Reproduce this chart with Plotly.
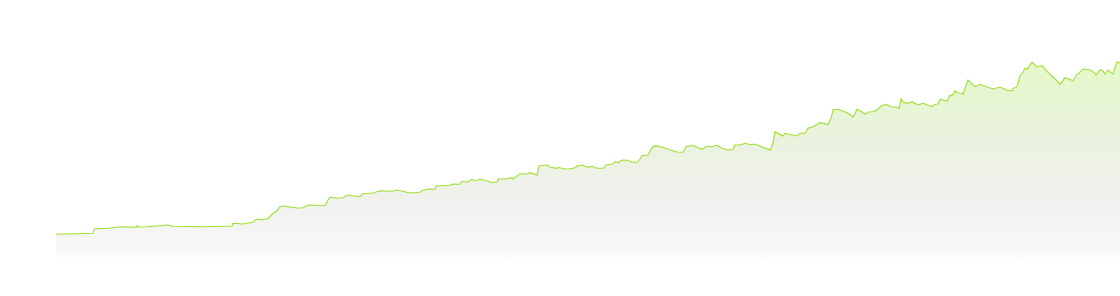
import plotly.graph_objects as go

# day index (x) and value (y)
days = [0, 24, 37, 38, 52, 65, 74, 80, 81, 83, 91, 112, 116, 149, 176, 177, 187, 197, 200, 206,
        212, 217, 220, 224, 227, 234, 241, 247, 252, 259, 269, 272, 274, 281, 287, 291, 296, 304,
        306, 317, 324, 337, 341, 347, 354, 364, 366, 372, 379, 380, 394, 397, 404, 406, 412, 416,
        419, 424, 431, 436, 441, 442, 449, 456, 457, 464, 471, 474, 481, 483, 491, 494, 501, 502,
        509, 514, 519, 521, 526, 532, 536, 541, 547, 550, 557, 559, 562, 566, 572, 576, 581, 584,
        586, 592, 596, 599, 607, 614, 621, 627, 630, 636, 641, 646, 651, 656, 661, 666, 672, 677,
        679, 684, 689, 694, 699, 704, 711, 714, 717, 719, 722, 727, 729, 734, 741, 744, 749, 752,
        757, 764, 769, 772, 775, 777, 782, 786, 791, 796, 797, 801, 806, 810, 812, 817, 822, 825,
        830, 835, 841, 843, 845, 847, 851, 856, 862, 867, 872, 876, 879, 882, 884, 891, 894, 896,
        899, 901, 906, 907, 912, 916, 919, 924, 931, 937, 944, 951, 956, 957, 961, 964, 967, 969,
        971, 976, 981, 986, 992, 996, 999, 1001, 1004, 1009, 1014, 1017, 1021, 1023, 1027, 1034,
        1038, 1040, 1044, 1047, 1049, 1052, 1056, 1057, 1061, 1064]

values = [30.7, 31, 31.7, 36, 36.7, 38.3, 37.7, 37.7, 39.3, 38, 38.3, 40, 38.7, 38.3, 39, 41.7,
          41, 42.7, 45.7, 45.3, 46.3, 51.7, 53.3, 58.3, 59, 57.7, 57, 57.3, 60, 59.7, 59.3, 65,
          67.7, 67, 67.3, 70, 69.3, 68.3, 71, 72, 74.3, 73.7, 75, 73.3, 72, 72.7, 74.3, 76, 75.7,
          79, 79.7, 81, 80.7, 83.7, 83, 85.7, 84, 85.7, 84.3, 82.3, 83, 86, 86, 87.3, 86, 91.3,
          91, 92.3, 90, 99.3, 100, 97.7, 96.7, 97.7, 96, 96.3, 97.3, 99, 100, 97.7, 98.7, 96.7,
          96.7, 100, 101, 103.3, 102.3, 105, 104.7, 102.7, 102.7, 106, 109.3, 110, 117.3, 119.3,
          117.7, 115, 113, 112.7, 118.3, 119.7, 117.7, 115.7, 119, 118.3, 119.7, 116.7, 115, 116,
          120, 120, 121.7, 120.3, 121, 119, 116.3, 115, 121.7, 133.3, 131.7, 129, 131.7, 130.7,
          129, 131.7, 131.7, 136.7, 138.3, 142.3, 141.7, 140.7, 146.7, 155, 155.7, 154.3, 152.3,
          149, 147.7, 155.7, 153.3, 150.7, 153, 153.3, 155.7, 159, 160.7, 158.3, 157.7, 156.3,
          166.7, 163, 161.7, 163.3, 160, 161.7, 159.7, 158.3, 160.7, 161, 165.7, 164, 170, 169,
          174.3, 172.3, 171.7, 170.7, 185, 180.7, 178.3, 180.7, 178.3, 176, 178, 174.7, 174,
          176.7, 178.3, 189, 192.7, 196.7, 196, 202.7, 198.3, 199.3, 192.7, 188.3, 186, 184,
          180.7, 187.3, 185, 184.3, 190.7, 191.7, 196, 195, 192.7, 190, 195, 194, 190.7, 195,
          191.7, 191, 203.3, 201.7, 200]

fig = go.Figure(go.Scatter(
    x=days, y=values, mode="lines",
    line=dict(color="#9ee02e", width=1.1),
    fill="tozeroy",
    fillgradient=dict(
        type="vertical",
        start=0, stop=205,
        colorscale=[[0, "rgba(255,255,255,1)"], [0.08, "#f8f8f8"], [0.3, "#f1f1ef"],
                    [0.6, "#ebf2df"], [1, "#e4f8c8"]],
    ),
    hoverinfo="skip",
))

fig.update_layout(
    width=1120, height=296,
    margin=dict(l=56, r=0, t=0, b=31),
    paper_bgcolor="white", plot_bgcolor="white",
    showlegend=False,
    xaxis=dict(range=[0, 1064], visible=False, fixedrange=True),
    yaxis=dict(range=[0, 265], visible=False, fixedrange=True),
)

fig.write_html("out.html")
